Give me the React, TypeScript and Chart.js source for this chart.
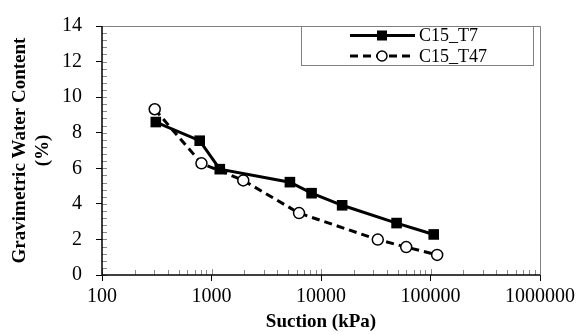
import React, { useEffect, useRef } from "react";
import { Chart, registerables } from "chart.js";

Chart.register(...registerables);

const seriesNames = ["C15_T7", "C15_T47"];
const t7Suction = [310, 780, 1190, 5200, 8200, 15600, 49000, 107000];
const t7Water = [8.6, 7.55, 5.95, 5.22, 4.6, 3.92, 2.92, 2.28];
const t47Suction = [303, 810, 1950, 6300, 33000, 60000, 115000];
const t47Water = [9.32, 6.28, 5.32, 3.48, 1.99, 1.57, 1.13];
const xTitle = "Suction (kPa)";
const yTitle = ["Gravimetric Water Content", "(%)"];

const FONT = "'Liberation Serif', 'Times New Roman', serif";

const isDecade = (v: number) => Math.abs(Math.log10(v) - Math.round(Math.log10(v))) < 1e-9;

const framePlugin = {
  id: "frame",
  afterDraw(chart: any) {
    const { ctx, chartArea: a, scales } = chart;
    const xs = scales.x;
    const ys = scales.y;
    ctx.save();
    ctx.strokeStyle = "#808080";
    ctx.lineWidth = 1;
    ctx.beginPath();
    ctx.moveTo(a.left, a.top + 0.5);
    ctx.lineTo(a.right + 0.5, a.top + 0.5);
    ctx.lineTo(a.right + 0.5, a.bottom);
    ctx.stroke();
    ctx.strokeStyle = "#8a8a8a";
    for (let d = 2; d < 6; d++) {
      for (let m = 1; m <= 9; m++) {
        const v = m * Math.pow(10, d);
        const px = Math.round(xs.getPixelForValue(v)) + 0.5;
        const len = m === 1 ? 6 : 5;
        ctx.beginPath();
        ctx.moveTo(px, a.bottom);
        ctx.lineTo(px, a.bottom - len);
        ctx.stroke();
      }
    }
    for (let i = 0; i <= 35; i++) {
      const v = i * 0.4;
      const py = Math.round(ys.getPixelForValue(v)) + 0.5;
      ctx.beginPath();
      ctx.moveTo(a.left, py);
      ctx.lineTo(a.left + 5, py);
      ctx.stroke();
    }
    ctx.strokeStyle = "#000";
    ctx.lineWidth = 1.5;
    ctx.beginPath();
    ctx.moveTo(a.left, a.top);
    ctx.lineTo(a.left, a.bottom);
    ctx.lineTo(a.right, a.bottom);
    ctx.stroke();

    const lx = 301, ly = 26, lw = 232, lh = 39;
    ctx.strokeStyle = "#808080";
    ctx.lineWidth = 1;
    ctx.strokeRect(lx + 0.5, ly + 0.5, lw, lh);
    const rows = [35.5, 56];
    chart.data.datasets.forEach((ds: any, i: number) => {
      const y = rows[i];
      ctx.strokeStyle = "#000";
      ctx.lineWidth = 3;
      ctx.setLineDash(ds.borderDash || []);
      ctx.beginPath();
      ctx.moveTo(350, y);
      ctx.lineTo(415, y);
      ctx.stroke();
      ctx.setLineDash([]);
      if (ds.pointStyle === "rect") {
        ctx.fillStyle = "#000";
        ctx.fillRect(377, y - 5, 10, 10);
      } else {
        ctx.fillStyle = "#fff";
        ctx.lineWidth = 1.5;
        ctx.beginPath();
        ctx.arc(382, y, 5, 0, Math.PI * 2);
        ctx.fill();
        ctx.stroke();
      }
      ctx.fillStyle = "#000";
      ctx.font = `18px ${FONT}`;
      ctx.textBaseline = "middle";
      ctx.textAlign = "left";
      ctx.fillText(ds.label, 419, y + 1);
    });
    ctx.restore();
  },
};

export default function App() {
  const ref = useRef<HTMLCanvasElement>(null);
  useEffect(() => {
    document.body.style.margin = "0";
    const chart = new Chart(ref.current as HTMLCanvasElement, {
      type: "line",
      data: {
        datasets: [
          {
            label: seriesNames[0],
            data: t7Suction.map((x, i) => ({ x, y: t7Water[i] })),
            borderColor: "#000",
            backgroundColor: "#000",
            borderWidth: 3,
            pointStyle: "rect",
            pointRadius: 7.5,
            pointBorderWidth: 0,
            pointBackgroundColor: "#000",
          },
          {
            label: seriesNames[1],
            data: t47Suction.map((x, i) => ({ x, y: t47Water[i] })),
            borderColor: "#000",
            borderWidth: 3,
            borderDash: [8, 5],
            pointStyle: "circle",
            pointRadius: 5.5,
            pointBorderWidth: 1.5,
            pointBackgroundColor: "#fff",
            pointBorderColor: "#000",
          },
        ],
      },
      options: {
        responsive: false,
        animation: false,
        layout: { padding: { top: 20, right: 47, left: 0, bottom: 0 } },
        plugins: { legend: { display: false }, tooltip: { enabled: false } },
        scales: {
          x: {
            type: "logarithmic",
            min: 100,
            max: 1000000,
            border: { display: false },
            grid: {
              drawOnChartArea: false,
              drawTicks: true,
              tickLength: 6,
              color: (c: any) => (c.tick && isDecade(c.tick.value) ? "#000" : "rgba(0,0,0,0)"),
            },
            ticks: {
              autoSkip: false,
              maxRotation: 0,
              color: "#000",
              padding: 4,
              font: { family: FONT, size: 20 },
              callback: (v: any) => (isDecade(Number(v)) ? String(Math.round(Number(v))) : ""),
            },
            title: {
              display: true,
              text: xTitle,
              color: "#000",
              font: { family: FONT, size: 19, weight: "bold" },
              padding: { top: 0, bottom: 1 },
            },
            afterFit: (s: any) => {
              s.height = 59;
            },
          },
          y: {
            min: 0,
            max: 14,
            border: { display: false },
            grid: { drawOnChartArea: false, drawTicks: true, tickLength: 6, color: "#000" },
            ticks: {
              stepSize: 2,
              color: "#000",
              padding: 14,
              font: { family: FONT, size: 20 },
            },
            title: {
              display: true,
              text: yTitle,
              color: "#000",
              font: { family: FONT, size: 19, weight: "bold" },
              padding: { top: 9, bottom: 0 },
            },
            afterFit: (s: any) => {
              s.width = 102;
            },
          },
        },
      },
      plugins: [framePlugin],
    } as any);
    return () => chart.destroy();
  }, []);
  return <canvas ref={ref} width={587} height={334} />;
}
